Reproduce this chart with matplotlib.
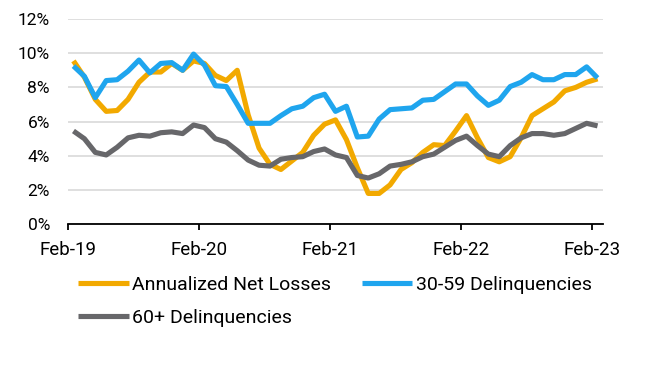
import numpy as np
import matplotlib
matplotlib.use("Agg")
import matplotlib.pyplot as plt
from matplotlib.ticker import FuncFormatter

# Monthly series, Feb-19 .. Feb-23 (values in %)
tick_labels = ["Feb-19", "Feb-20", "Feb-21", "Feb-22", "Feb-23"]

net_losses = [
    9.55, 8.6, 7.3, 6.6, 6.65, 7.3, 8.3, 8.9, 8.9, 9.4, 9.0, 9.55,
    9.4, 8.7, 8.4, 9.0, 6.4, 4.45, 3.5, 3.2, 3.7, 4.2, 5.2, 5.85,
    6.1, 4.95, 3.3, 1.8, 1.8, 2.3, 3.2, 3.6, 4.2, 4.65, 4.6, 5.45,
    6.35, 5.05, 3.9, 3.65, 3.95, 5.05, 6.35, 6.75, 7.15, 7.8, 8.0, 8.3,
    8.5,
]
delinq_30_59 = [
    9.25, 8.65, 7.4, 8.4, 8.45, 8.95, 9.6, 8.85, 9.4, 9.45, 9.0, 9.95,
    9.3, 8.1, 8.05, 7.0, 5.9, 5.9, 5.9, 6.35, 6.75, 6.9, 7.4, 7.6,
    6.6, 6.9, 5.1, 5.15, 6.15, 6.7, 6.75, 6.8, 7.25, 7.3, 7.75, 8.2,
    8.2, 7.5, 6.95, 7.25, 8.05, 8.3, 8.75, 8.45, 8.45, 8.75, 8.75, 9.2,
    8.55,
]
delinq_60_plus = [
    5.45, 5.0, 4.2, 4.05, 4.5, 5.05, 5.2, 5.15, 5.35, 5.4, 5.3, 5.8,
    5.65, 5.0, 4.8, 4.3, 3.75, 3.45, 3.4, 3.8, 3.9, 3.95, 4.25, 4.4,
    4.05, 3.9, 2.85, 2.7, 2.95, 3.4, 3.5, 3.65, 3.95, 4.1, 4.5, 4.9,
    5.15, 4.6, 4.1, 3.95, 4.6, 5.05, 5.3, 5.3, 5.2, 5.3, 5.6, 5.9,
    5.75,
]

plt.rcParams["font.family"] = ["Roboto", "DejaVu Sans"]

ORANGE = "#F2A900"
BLUE = "#1FA5EE"
GRAY = "#67676A"

fig = plt.figure(figsize=(6.57, 3.74), dpi=100)
ax = fig.add_axes([0.1035, 0.4005, 0.8143, 0.5487])

# points sit in the middle of each month slot
x = np.arange(len(net_losses)) + 0.5
l1, = ax.plot(x, net_losses, color=ORANGE, lw=3.7, solid_capstyle="butt",
              label="Annualized Net Losses")
l2, = ax.plot(x, delinq_30_59, color=BLUE, lw=3.7, solid_capstyle="butt",
              label="30-59 Delinquencies")
l3, = ax.plot(x, delinq_60_plus, color=GRAY, lw=3.7, solid_capstyle="butt",
              label="60+ Delinquencies")

ax.set_xlim(0, len(net_losses))
ax.set_ylim(0, 12)
ax.set_yticks(np.arange(0, 13, 2))
ax.yaxis.set_major_formatter(FuncFormatter(lambda v, _: f"{v:.0f}%"))
ax.set_xticks(np.arange(0, 49, 12))
ax.set_xticklabels(tick_labels)

ax.grid(axis="y", color="#D9D9D9", lw=1.2)
ax.set_axisbelow(True)
for side in ["left", "right", "top"]:
    ax.spines[side].set_visible(False)
ax.spines["bottom"].set_linewidth(1.3)
ax.spines["bottom"].set_color("black")
ax.tick_params(axis="y", length=0, pad=13, labelsize=12.5)
ax.tick_params(axis="x", length=4, width=1.3, pad=8, labelsize=13.5)

fig.legend([l1, l3, l2], [l1.get_label(), l3.get_label(), l2.get_label()],
           ncol=2, loc="upper left", bbox_to_anchor=(0.1187, 0.262),
           frameon=False, borderpad=0, borderaxespad=0, fontsize=14,
           handlelength=2.6, handletextpad=0.2, columnspacing=1.55,
           labelspacing=0.78)

fig.savefig("out.png", dpi=100)
